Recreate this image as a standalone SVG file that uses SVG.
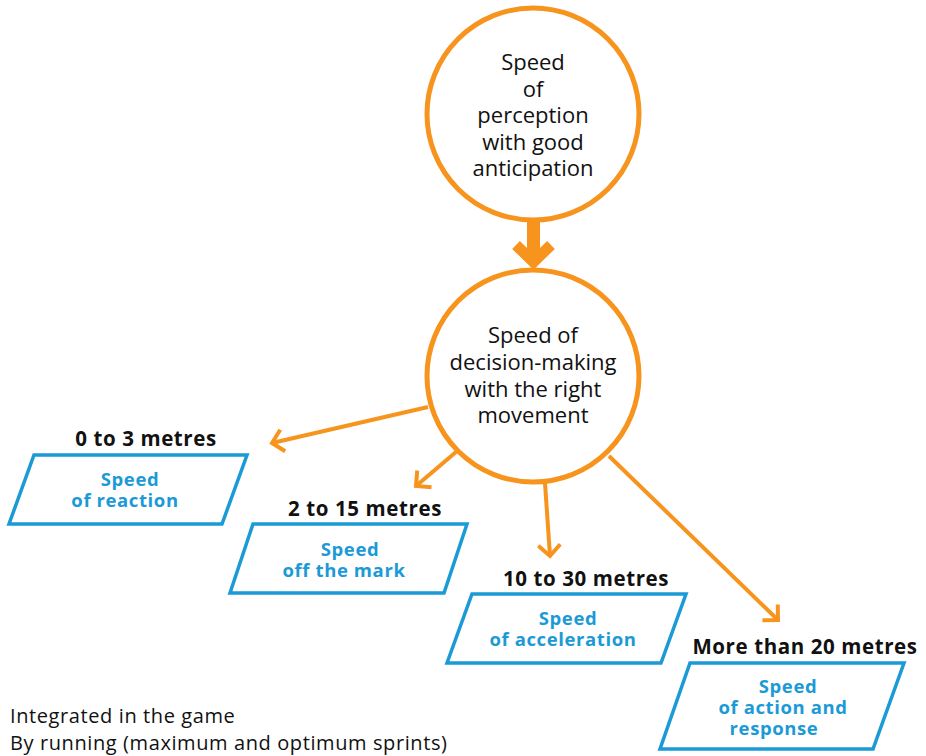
<svg xmlns="http://www.w3.org/2000/svg" width="926" height="756" viewBox="0 0 926 756">
<defs>
<style>
.circ{fill:#fff;stroke:#F7941D;stroke-width:5}
.conn{fill:none;stroke:#F7941D;stroke-width:4}
.para{fill:#fff;stroke:#1B9AD6;stroke-width:3.5}
.ct{font-family:"Open Sans","Noto Sans",sans-serif;font-size:22px;fill:#111;text-anchor:middle}
.lbl{font-family:"Open Sans","Noto Sans",sans-serif;font-size:20.5px;letter-spacing:0.6px;font-weight:bold;fill:#111;text-anchor:middle}
.pt{font-family:"Open Sans","Noto Sans",sans-serif;font-size:18.5px;letter-spacing:0.6px;font-weight:bold;fill:#1B9AD6;text-anchor:middle}
.note{font-family:"Open Sans","Noto Sans",sans-serif;font-size:20px;letter-spacing:0.6px;fill:#111}
</style>
<marker id="ah" markerUnits="userSpaceOnUse" markerWidth="30" markerHeight="30" refX="0" refY="0" viewBox="-15 -15 30 30" orient="auto" overflow="visible">
<path d="M-11,-11 L0,0 L-11,11" fill="none" stroke="#F7941D" stroke-width="4"/>
</marker>
</defs>
<g id="connectors">
<line x1="533.5" y1="221" x2="533.5" y2="256" stroke="#F7941D" stroke-width="13"/>
<polyline points="516,245 533.5,262 551,245" fill="none" stroke="#F7941D" stroke-width="11"/>
<line class="conn" x1="428" y1="407" x2="272" y2="443" marker-end="url(#ah)"/>
<line class="conn" x1="456" y1="452" x2="416" y2="486" marker-end="url(#ah)"/>
<line class="conn" x1="545" y1="483" x2="550" y2="556" marker-end="url(#ah)"/>
<line class="conn" x1="609" y1="456" x2="778" y2="620" marker-end="url(#ah)"/>
</g>
<g id="perception">
<circle class="circ" cx="533" cy="114" r="106"/>
<text class="ct" x="533" y="70">Speed</text>
<text class="ct" x="533" y="97">of</text>
<text class="ct" x="533" y="123">perception</text>
<text class="ct" x="533" y="150">with good</text>
<text class="ct" x="533" y="176">anticipation</text>
</g>
<g id="decision">
<circle class="circ" cx="533" cy="376" r="106"/>
<text class="ct" x="533" y="343">Speed of</text>
<text class="ct" x="533" y="370">decision-making</text>
<text class="ct" x="533" y="397">with the right</text>
<text class="ct" x="533" y="423">movement</text>
</g>
<g id="reaction">
<text class="lbl" x="146" y="446">0 to 3 metres</text>
<polygon class="para" points="34,455 247,455 222,524 9,524"/>
<text class="pt" x="130" y="486">Speed</text>
<text class="pt" x="125" y="507">of reaction</text>
</g>
<g id="offmark">
<text class="lbl" x="365" y="516">2 to 15 metres</text>
<polygon class="para" points="253,524 467,524 444,593 230,593"/>
<text class="pt" x="350" y="556">Speed</text>
<text class="pt" x="344" y="577">off the mark</text>
</g>
<g id="acceleration">
<text class="lbl" x="586" y="586">10 to 30 metres</text>
<polygon class="para" points="472,594 686,594 661,663 447,663"/>
<text class="pt" x="568" y="625">Speed</text>
<text class="pt" x="563" y="646">of acceleration</text>
</g>
<g id="action">
<text class="lbl" x="805" y="654">More than 20 metres</text>
<polygon class="para" points="690,663 904,663 873,749 660,749"/>
<text class="pt" x="788" y="693">Speed</text>
<text class="pt" x="783" y="714">of action and</text>
<text class="pt" x="774" y="735">response</text>
</g>
<g id="notes">
<text class="note" x="10" y="723">Integrated in the game</text>
<text class="note" x="10" y="750">By running (maximum and optimum sprints)</text>
</g>
</svg>
